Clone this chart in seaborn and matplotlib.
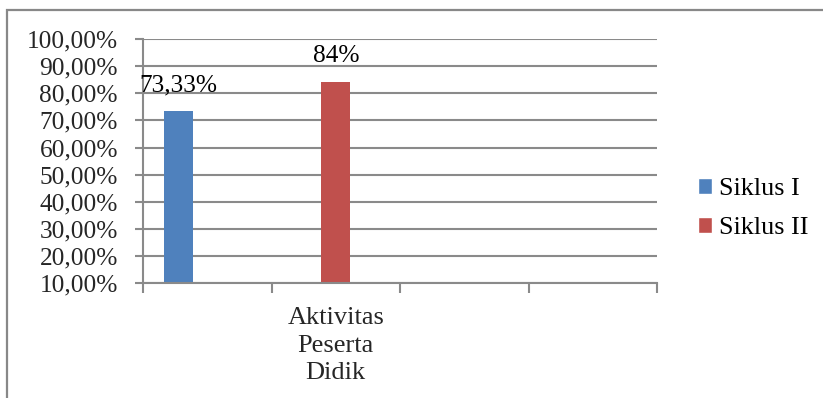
import numpy as np
import pandas as pd
import matplotlib
matplotlib.use("Agg")
import matplotlib.pyplot as plt
from matplotlib.patches import Rectangle
from matplotlib.ticker import FuncFormatter
import seaborn as sns

# category slots on the x axis (only one carries a visible name)
slots = ["", "Aktivitas\nPeserta\nDidik", " ", "  "]
series = ["Siklus I", "Siklus II"]
bar_slot = ["", "Aktivitas\nPeserta\nDidik"]
values = [0.7333, 0.84]
value_labels = ["73,33%", "84%"]
y_ticks = [0.1, 0.2, 0.3, 0.4, 0.5, 0.6, 0.7, 0.8, 0.9, 1.0]
colors = ["#4F81BD", "#C0504D"]

GRID = "#8A8A8A"
FS = 18.3
BAR_W = 0.224
slot_offsets = [-0.224, 0.0]

sns.set_theme(style="white")
plt.rcParams["font.family"] = ["Liberation Serif", "DejaVu Serif"]
plt.rcParams["font.size"] = FS
plt.rcParams["text.color"] = "black"

df = pd.DataFrame({"slot": bar_slot, "Siklus": series, "nilai": values})

W, H = 823, 398
fig = plt.figure(figsize=(W / 100, H / 100), dpi=100)
left, right, bottom, top = 143, 657, 283.3, 39
ax = fig.add_axes([left / W, 1 - bottom / H, (right - left) / W, (bottom - top) / H])

sns.barplot(data=df, x="slot", y="nilai", hue="Siklus", order=slots,
            hue_order=series, palette=colors, dodge=False, width=BAR_W,
            saturation=1, ax=ax)

# place each series within its slot and label the bars
for container, off, lab in zip(ax.containers, slot_offsets, value_labels):
    for bar in container:
        bar.set_x(bar.get_x() + off)
        bar.set_linewidth(0)
    ax.bar_label(container, labels=[lab], padding=11, fontsize=FS)

ax.set_ylim(0.1, 1.0)
ax.set_xlim(-0.5, len(slots) - 0.5)
ax.set_yticks(y_ticks)
ax.yaxis.set_major_formatter(
    FuncFormatter(lambda v, _: f"{v * 100:.2f}%".replace(".", ",")))
ax.set_xticks(np.arange(-0.5, len(slots)), labels=[""] * (len(slots) + 1))
ax.set_xticks(range(len(slots)), labels=slots, minor=True)
ax.set_xlabel("")
ax.set_ylabel("")

ax.yaxis.grid(True, color=GRID, linewidth=1.5)
ax.set_axisbelow(True)
for s in ["top", "right"]:
    ax.spines[s].set_visible(False)
for s in ["left", "bottom"]:
    ax.spines[s].set_color(GRID)
    ax.spines[s].set_linewidth(1.5)

ax.tick_params(axis="y", which="major", length=6, width=1.5, color=GRID,
               pad=12, labelsize=FS, left=True)
ax.tick_params(axis="x", which="major", length=7, width=1.5, color=GRID,
               direction="out", bottom=True)
ax.tick_params(axis="x", which="minor", length=0, pad=17, labelsize=19)
for t in ax.get_xticklabels(minor=True):
    t.set_linespacing(1.33)

handles, labels = ax.get_legend_handles_labels()
ax.get_legend().remove()
fig.legend(handles, labels, loc="center left",
           bbox_to_anchor=(698 / W, 1 - 208.5 / H), frameon=False,
           handlelength=0.55, handleheight=0.55, handletextpad=0.25,
           labelspacing=0.65, borderpad=0, borderaxespad=0, fontsize=18.8)

# chart frame
fig.add_artist(Rectangle((7 / W, -0.5), 2.0, (1 - 10 / H) + 0.5,
                         transform=fig.transFigure, facecolor="none",
                         edgecolor="#888888", linewidth=1.6, clip_on=False))

fig.savefig("out.png", dpi=100)
